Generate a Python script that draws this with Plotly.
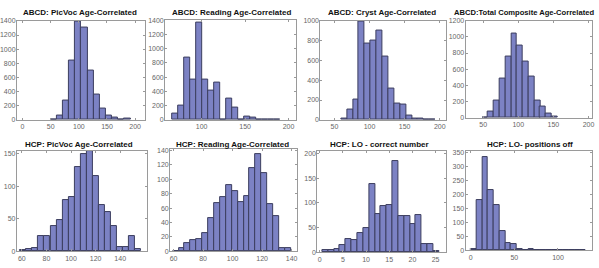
import plotly.graph_objects as go

W, H = 599, 268

# ---------------- data ----------------
titles = [
    "ABCD: PicVoc Age-Correlated",
    "ABCD: Reading Age-Correlated",
    "ABCD: Cryst Age-Correlated",
    "ABCD:Total Composite Age-Correlated",
    "HCP: PicVoc Age-Correlated",
    "HCP: Reading Age-Correlated",
    "HCP: LO - correct number",
    "HCP: LO- positions off",
]

abcd_picvoc_bins = [55.2, 66.1, 77.0, 88.0, 98.9, 109.8, 120.8, 131.7, 142.6, 153.5, 164.5, 175.4, 186.3]
abcd_picvoc_counts = [10, 60, 280, 840, 1385, 1310, 700, 357, 165, 60, 27, 0, 14]

abcd_reading_bins = [69.3, 76.2, 83.2, 90.1, 97.1, 104.0, 111.0, 117.9, 124.9, 131.8, 138.8, 145.7,
                     152.7, 159.6, 166.6, 173.5, 180.5, 187.4]
abcd_reading_counts = [90, 195, 877, 560, 1364, 560, 410, 523, 5, 295, 173, 0, 45, 36, 10, 10, 8, 5]

abcd_cryst_bins = [63.7, 72.1, 80.5, 88.9, 97.3, 105.7, 114.1, 122.5, 130.9, 139.3, 147.7, 156.1,
                   164.5, 172.9, 181.3, 189.7]
abcd_cryst_counts = [16, 102, 200, 990, 770, 795, 895, 637, 317, 168, 158, 43, 16, 13, 6, 3]

abcd_total_bins = [52.7, 61.0, 69.2, 77.5, 85.7, 94.0, 102.2, 110.5, 118.7, 127.0, 135.2, 143.5, 151.7]
abcd_total_counts = [8, 76, 220, 480, 760, 1036, 888, 700, 508, 220, 140, 56, 12]

hcp_picvoc_bins = [61.1, 66.0, 70.9, 75.8, 80.7, 85.7, 90.6, 95.5, 100.4, 105.3, 110.3, 115.2,
                   120.1, 125.0, 129.9, 134.9, 139.8, 144.7, 149.6, 154.5]
hcp_picvoc_counts = [2, 4, 5, 23, 23, 39, 48, 79, 84, 129, 150, 154, 116, 71, 61, 39, 6, 7, 24, 3]

hcp_reading_bins = [61.5, 65.5, 69.5, 73.5, 77.5, 81.5, 85.5, 89.5, 93.5, 97.5, 101.5, 105.5,
                    109.5, 113.5, 117.5, 121.5, 125.5, 129.5, 133.5, 137.5]
hcp_reading_counts = [1, 4, 12, 15, 17, 26, 46, 67, 76, 92, 84, 69, 77, 115, 135, 109, 66, 49, 4, 5]

hcp_lo_correct_bins = [1.2, 2.46, 3.72, 4.98, 6.24, 7.5, 8.76, 10.02, 11.28, 12.54, 13.8, 15.06,
                       16.32, 17.58, 18.84, 20.1, 21.36, 22.62, 23.88, 25.14]
hcp_lo_correct_counts = [5, 5, 7, 14, 27, 25, 39, 49, 138, 78, 93, 95, 185, 74, 74, 57, 75, 17, 17, 3]

hcp_lo_off_bins = [3.3, 9.9, 16.5, 23.1, 29.7, 36.3, 42.9, 49.5, 56.1, 62.7, 69.3, 75.9,
                   82.5, 89.1, 95.7, 102.3, 108.9, 115.5, 122.1, 128.7]
hcp_lo_off_counts = [6, 181, 333, 216, 162, 70, 26, 22, 6, 3, 6, 0, 2, 0, 1, 2, 1, 0, 1, 3]

x_ticks = [
    [0, 50, 100, 150, 200],
    [100, 150, 200],
    [50, 100, 150, 200],
    [50, 100, 150, 200],
    [60, 80, 100, 120, 140],
    [60, 80, 100, 120, 140],
    [0, 5, 10, 15, 20, 25],
    [0, 50, 100],
]
y_ticks = [
    [0, 200, 400, 600, 800, 1000, 1200, 1400],
    [0, 200, 400, 600, 800, 1000, 1200, 1400],
    [0, 200, 400, 600, 800, 1000],
    [0, 200, 400, 600, 800, 1000, 1200],
    [0, 50, 100, 150],
    [0, 20, 40, 60, 80, 100, 120, 140],
    [0, 50, 100, 150, 200],
    [0, 50, 100, 150, 200, 250, 300, 350],
]

series = [
    (abcd_picvoc_bins, abcd_picvoc_counts),
    (abcd_reading_bins, abcd_reading_counts),
    (abcd_cryst_bins, abcd_cryst_counts),
    (abcd_total_bins, abcd_total_counts),
    (hcp_picvoc_bins, hcp_picvoc_counts),
    (hcp_reading_bins, hcp_reading_counts),
    (hcp_lo_correct_bins, hcp_lo_correct_counts),
    (hcp_lo_off_bins, hcp_lo_off_counts),
]

# ---------------- layout (pixels) ----------------
boxes = [  # x0, x1, y0(top), y1(bottom)
    (16, 145, 17, 119),
    (165, 296, 16, 119),
    (321, 447, 17, 119),
    (467, 594, 17, 117),
    (16, 147, 151, 254),
    (170, 297, 149, 254),
    (318, 447, 151, 255),
    (467, 594, 151, 253),
]
x_ranges = [[-10, 218], [58, 208], [30, 208.5], [25, 205], [56, 162], [57.7, 143.3], [-0.5, 27.2], [-5.7, 139]]
y_ranges = [[0, 1405], [0, 1410], [0, 1000], [0, 1200], [0, 154], [0, 142], [0, 205], [0, 356]]
title_pos = [(79, 9, "center"), (232, 9, "center"), (383, 9, "center"), (598, 9, "right"),
             (78, 144, "center"), (233, 144, "center"), (380, 144, "center"), (532, 144, "center")]

fig = go.Figure()
layout = dict(
    width=W, height=H,
    margin=dict(l=0, r=0, t=0, b=0),
    paper_bgcolor="white", plot_bgcolor="white",
    showlegend=False,
    font=dict(family="Liberation Sans, Arial, sans-serif", size=7, color="#555"),
    bargap=0,
    annotations=[],
)

for i, ((bins, counts), box) in enumerate(zip(series, boxes)):
    n = i + 1
    xa = "x" if n == 1 else f"x{n}"
    ya = "y" if n == 1 else f"y{n}"
    width = bins[1] - bins[0]
    fig.add_trace(go.Bar(
        x=bins, y=counts, width=width, xaxis=xa, yaxis=ya,
        marker=dict(color="rgb(124,130,196)", line=dict(color="rgb(60,62,95)", width=1)),
        hoverinfo="x+y",
    ))
    x0, x1, t, b = box
    axcommon = dict(
        showline=True, linecolor="#9a9a9a", linewidth=1, mirror="ticks",
        ticks="inside", ticklen=2, tickcolor="#9a9a9a",
        showgrid=False, zeroline=False,
        tickfont=dict(size=7, color="#666"),
    )
    layout[f"xaxis{n}"] = dict(
        domain=[x0 / W, x1 / W], anchor=ya, range=x_ranges[i],
        tickvals=x_ticks[i], **axcommon,
    )
    layout[f"yaxis{n}"] = dict(
        domain=[1 - b / H, 1 - t / H], anchor=xa, range=y_ranges[i],
        tickvals=y_ticks[i], ticklabelstandoff=-1, **axcommon,
    )
    tx, ty, anc = title_pos[i]
    layout["annotations"].append(dict(
        text=f"<b>{titles[i]}</b>", x=tx / W, y=1 - ty / H, xref="paper", yref="paper",
        xanchor=anc, yanchor="middle", showarrow=False,
        font=dict(size=8 if i != 3 else 7.6, color="#111", family="Liberation Sans, Arial, sans-serif"),
    ))

fig.update_layout(**layout)
fig.write_html("out.html", config={"displayModeBar": False},
               post_script="document.body.style.margin='0';")
